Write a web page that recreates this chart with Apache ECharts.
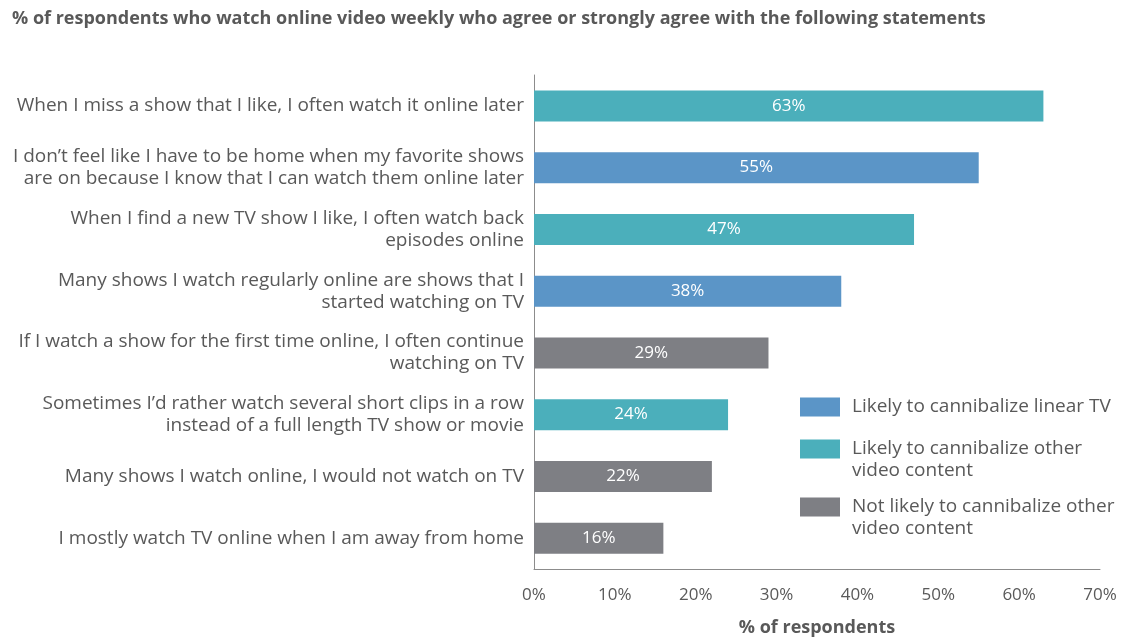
<!DOCTYPE html>
<html>
<head>
<meta charset="utf-8">
<script src="https://cdn.jsdelivr.net/npm/echarts@6/dist/echarts.min.js"></script>
<style>
  html, body { margin: 0; padding: 0; background: #fff; }
  #chart { width: 1136px; height: 637px; }
</style>
</head>
<body>
<div id="chart"></div>
<script>
// Statements, top to bottom
const statements = [
  "When I miss a show that I like, I often watch it online later",
  "I don\u2019t feel like I have to be home when my favorite shows\nare on because I know that I can watch them online later",
  "When I find a new TV show I like, I often watch back\nepisodes online",
  "Many shows I watch regularly online are shows that I\nstarted watching on TV",
  "If I watch a show for the first time online, I often continue\nwatching on TV",
  "Sometimes I\u2019d rather watch several short clips in a row\ninstead of a full length TV show or movie",
  "Many shows I watch online, I would not watch on TV",
  "I mostly watch TV online when I am away from home"
];
// % of respondents agreeing, same order
const agreePct = [63, 55, 47, 38, 29, 24, 22, 16];
// group index of each statement (into groupNames)
const groupOf = [1, 0, 1, 0, 2, 1, 2, 2];
const groupNames = [
  "Likely to cannibalize linear TV",
  "Likely to cannibalize other\nvideo content",
  "Not likely to cannibalize other\nvideo content"
];
const groupColors = ["#5B95C7", "#4BAFBB", "#7E7F84"];
const xTicks = [0, 10, 20, 30, 40, 50, 60, 70];

const FONT = '"Open Sans", "Noto Sans", sans-serif';
const TXT = '#595959';

// category axis runs bottom-up, so reverse for top-to-bottom reading
const cats = statements.slice().reverse();
const vals = agreePct.slice().reverse();
const grps = groupOf.slice().reverse();

const series = groupNames.map((name, g) => ({
  name: name,
  type: 'bar',
  stack: 'all',
  barWidth: 31,
  itemStyle: { color: groupColors[g] },
  label: {
    show: true,
    position: 'inside',
    color: '#fff',
    fontFamily: FONT,
    fontSize: 17,
    formatter: p => p.value == null ? '' : p.value + '%'
  },
  data: vals.map((v, i) => grps[i] === g ? v : null)
}));

// One legend block per group. Two-line names get a blank leading line so
// the swatch (centred on the text block) lines up with the first text line.
const legendTops = [396, 416, 474];
const legends = groupNames.map((name, g) => ({
  orient: 'vertical',
  left: 800,
  top: legendTops[g],
  padding: 0,
  itemWidth: 40,
  itemHeight: 19,
  icon: 'rect',
  selectedMode: false,
  formatter: n => (n.indexOf('\n') >= 0 ? ' \n' : '') + n,
  textStyle: {
    fontFamily: FONT, fontSize: 19, color: TXT, lineHeight: 22,
    padding: [0, 0, 0, 7]
  },
  data: [name]
}));

const chart = echarts.init(document.getElementById('chart'), null, { renderer: 'canvas' });
chart.setOption({
  animation: false,
  backgroundColor: '#fff',
  title: {
    text: '% of respondents who watch online video weekly who agree or strongly agree with the following statements',
    left: 7,
    top: 5,
    textStyle: { fontFamily: FONT, fontSize: 18, fontWeight: 'bold', color: TXT }
  },
  grid: { left: 534, right: 36, top: 75, bottom: 68, containLabel: false, outerBoundsMode: 'none' },
  legend: legends,
  xAxis: {
    type: 'value',
    min: 0,
    max: 70,
    interval: 10,
    name: '% of respondents',
    nameLocation: 'middle',
    nameGap: 50,
    nameTextStyle: { fontFamily: FONT, fontSize: 18, fontWeight: 'bold', color: TXT },
    axisLine: { show: true, lineStyle: { color: '#8c8c8c', width: 1 } },
    axisTick: { show: false },
    splitLine: { show: false },
    axisLabel: {
      margin: 18,
      fontFamily: FONT,
      fontSize: 17,
      color: TXT,
      formatter: v => xTicks.includes(v) ? v + '%' : ''
    }
  },
  yAxis: {
    type: 'category',
    data: cats,
    axisLine: { show: true, lineStyle: { color: '#8c8c8c', width: 1 } },
    axisTick: { show: false },
    axisLabel: {
      margin: 10,
      fontFamily: FONT,
      fontSize: 19,
      lineHeight: 22,
      color: TXT,
      align: 'right'
    }
  },
  series: series
});
</script>
</body>
</html>
